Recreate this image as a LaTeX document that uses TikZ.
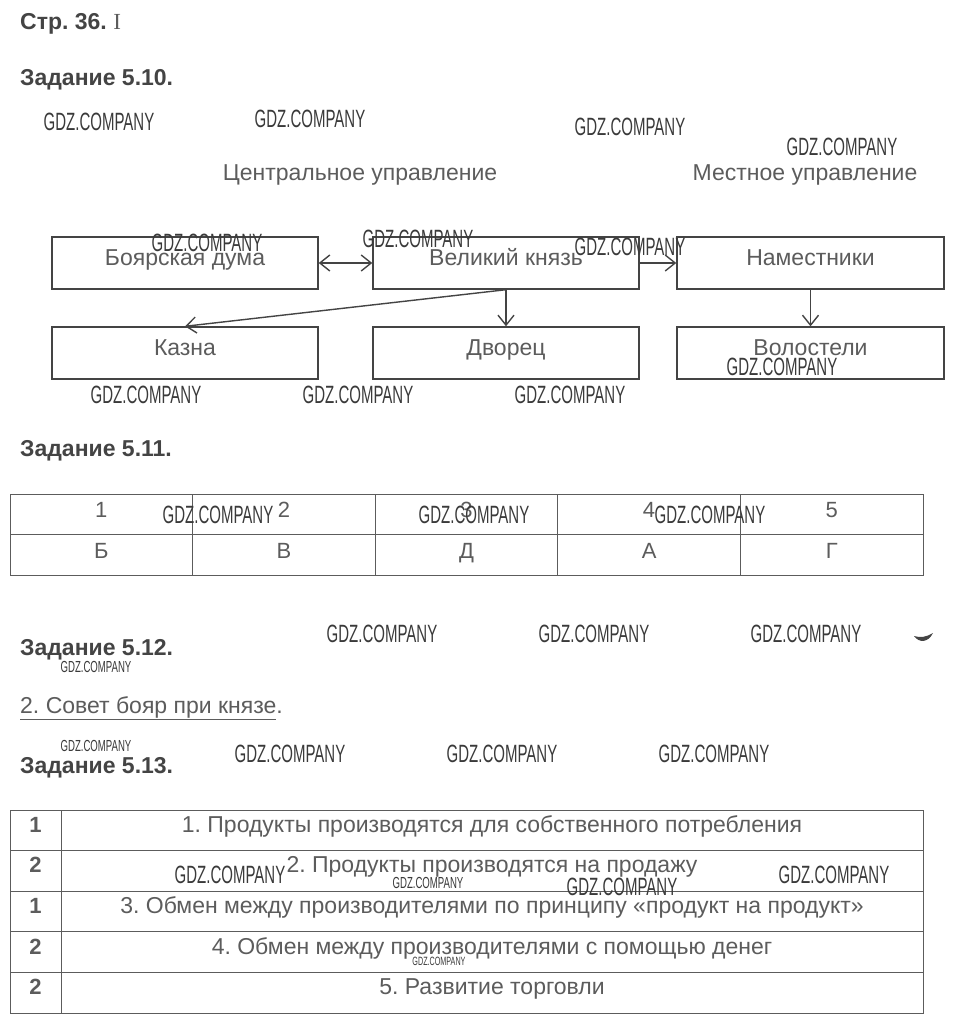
\documentclass[tikz,border=0pt]{standalone}
\usepackage{fontspec}
\setmainfont{Liberation Sans}
\newfontfamily\wmfont[FakeStretch=0.6]{Liberation Sans}
\newfontfamily\serifI{Liberation Serif}
\usepackage{tikz}
\usetikzlibrary{arrows.meta}
\definecolor{ink}{HTML}{444444}
\definecolor{txt}{HTML}{5C5C5C}
\definecolor{wmc}{HTML}{3A3A3A}
\frenchspacing

\begin{document}
\begin{tikzpicture}[x=1pt,y=-1pt,>={Straight Barb[length=10pt,width=16pt]},
  head/.style={anchor=base west,inner sep=0pt,text=ink,font=\fontsize{23}{26}\selectfont\bfseries},
  label/.style={anchor=base,inner sep=0pt,text=txt,font=\fontsize{23}{26}\selectfont},
  box/.style={draw=ink,line width=1.4pt,minimum width=266pt,minimum height=52pt,inner sep=0pt,text height=16pt,text depth=12pt,text=txt,font=\fontsize{23}{26}\selectfont},
  cell/.style={draw=txt,line width=0.8pt,minimum height=40.5pt,inner sep=0pt,text height=15pt,text depth=9pt,text=txt,font=\fontsize{22}{26}\selectfont},
  wm/.style={inner sep=0pt,text=wmc,font=\fontsize{25}{25}\wmfont},
  wmsmall/.style={inner sep=0pt,text=wmc,font=\fontsize{16}{16}\wmfont},
  wmtiny/.style={inner sep=0pt,text=wmc,font=\fontsize{12}{12}\wmfont},
  conn/.style={draw=ink,line width=1.4pt}]
  \useasboundingbox[fill=white] (0,0) rectangle (955,1027);

  % headings
  \node[head] (page) at (20,30) {Стр. 36. {\mdseries\serifI\color{txt}I}};
  \node[head] (t510) at (20,86) {Задание 5.10.};
  \node[head] (t511) at (20,456) {Задание 5.11.};
  \node[head] (t512) at (20,655) {Задание 5.12.};
  \node[head] (t513) at (20,773) {Задание 5.13.};

  % scheme 5.10
  \node[label] (central) at (360,180) {Центральное управление};
  \node[label] (local) at (805,180) {Местное управление};
  \node[box] (bduma) at (185,263) {Боярская дума};
  \node[box] (vknyaz) at (506,263) {Великий князь};
  \node[box,minimum width=267pt] (namest) at (810.5,263) {Наместники};
  \node[box] (kazna) at (185,353) {Казна};
  \node[box] (dvorets) at (506,353) {Дворец};
  \node[box,minimum width=267pt] (volost) at (810.5,353) {Волостели};
  \draw[conn,<->] (bduma) -- (vknyaz);
  \draw[conn,->] (vknyaz) -- (namest);
  \draw[conn,->] (vknyaz.south) -- (dvorets.north);
  \draw[conn,->] (vknyaz.south) -- (kazna.north);
  \draw[conn,->] (namest) -- (volost);

  % table 5.11
  \node[cell,minimum width=182.6pt] (n1) at (101.3,514.5) {1};
  \node[cell,minimum width=182.6pt] (n2) at (283.9,514.5) {2};
  \node[cell,minimum width=182.6pt] (n3) at (466.5,514.5) {3};
  \node[cell,minimum width=182.6pt] (n4) at (649.1,514.5) {4};
  \node[cell,minimum width=182.6pt] (n5) at (831.7,514.5) {5};
  \node[cell,minimum width=182.6pt] (l1) at (101.3,555) {Б};
  \node[cell,minimum width=182.6pt] (l2) at (283.9,555) {В};
  \node[cell,minimum width=182.6pt] (l3) at (466.5,555) {Д};
  \node[cell,minimum width=182.6pt] (l4) at (649.1,555) {А};
  \node[cell,minimum width=182.6pt] (l5) at (831.7,555) {Г};

  % answer 5.12
  \node[anchor=base west,inner sep=0pt,text=txt,font=\fontsize{23}{26}\selectfont] (ans512) at (20,713) {\underline{2. Совет бояр при князе}.};
  \fill[ink] (914,636) .. controls (919,643) and (928,643) .. (933,633) .. controls (927,637) and (920,638) .. cycle;

  % table 5.13
  \node[cell,minimum width=51pt,text depth=11pt,font=\fontsize{22}{26}\selectfont\bfseries] (k1) at (35.5,830.3) {1};
  \node[cell,minimum width=51pt,text depth=11pt,font=\fontsize{22}{26}\selectfont\bfseries] (k2) at (35.5,870.9) {2};
  \node[cell,minimum width=51pt,text depth=11pt,font=\fontsize{22}{26}\selectfont\bfseries] (k3) at (35.5,911.5) {1};
  \node[cell,minimum width=51pt,text depth=11pt,font=\fontsize{22}{26}\selectfont\bfseries] (k4) at (35.5,952.1) {2};
  \node[cell,minimum width=51pt,text depth=11pt,font=\fontsize{22}{26}\selectfont\bfseries] (k5) at (35.5,992.7) {2};
  \node[cell,minimum width=862pt,text height=15pt,text depth=11pt,font=\fontsize{23}{26}\selectfont] (s1) at (492,830.3) {1. Продукты производятся для собственного потребления};
  \node[cell,minimum width=862pt,text height=15pt,text depth=11pt,font=\fontsize{23}{26}\selectfont] (s2) at (492,870.9) {2. Продукты производятся на продажу};
  \node[cell,minimum width=862pt,text height=15pt,text depth=11pt,font=\fontsize{23}{26}\selectfont] (s3) at (492,911.5) {3. Обмен между производителями по принципу «продукт на продукт»};
  \node[cell,minimum width=862pt,text height=15pt,text depth=11pt,font=\fontsize{23}{26}\selectfont] (s4) at (492,952.1) {4. Обмен между производителями с помощью денег};
  \node[cell,minimum width=862pt,text height=15pt,text depth=11pt,font=\fontsize{23}{26}\selectfont] (s5) at (492,992.7) {5. Развитие торговли};

  % watermarks
  \node[wm] (w1) at (99,122) {GDZ.COMPANY};
  \node[wm] (w2) at (310,119) {GDZ.COMPANY};
  \node[wm] (w3) at (630,127) {GDZ.COMPANY};
  \node[wm] (w4) at (842,147) {GDZ.COMPANY};
  \node[wm] (w5) at (207,243) {GDZ.COMPANY};
  \node[wm] (w6) at (418,239) {GDZ.COMPANY};
  \node[wm] (w7) at (630,247) {GDZ.COMPANY};
  \node[wm] (w8) at (782,367) {GDZ.COMPANY};
  \node[wm] (w9) at (146,395) {GDZ.COMPANY};
  \node[wm] (w10) at (358,395) {GDZ.COMPANY};
  \node[wm] (w11) at (570,395) {GDZ.COMPANY};
  \node[wm] (w12) at (218,515) {GDZ.COMPANY};
  \node[wm] (w13) at (474,515) {GDZ.COMPANY};
  \node[wm] (w14) at (710,515) {GDZ.COMPANY};
  \node[wm] (w15) at (382,634) {GDZ.COMPANY};
  \node[wm] (w16) at (594,634) {GDZ.COMPANY};
  \node[wm] (w17) at (806,634) {GDZ.COMPANY};
  \node[wmsmall] (w18) at (96,667) {GDZ.COMPANY};
  \node[wmsmall] (w19) at (96,746) {GDZ.COMPANY};
  \node[wm] (w20) at (290,754) {GDZ.COMPANY};
  \node[wm] (w21) at (502,754) {GDZ.COMPANY};
  \node[wm] (w22) at (714,754) {GDZ.COMPANY};
  \node[wm] (w23) at (230,875) {GDZ.COMPANY};
  \node[wmsmall] (w24) at (428,883) {GDZ.COMPANY};
  \node[wm] (w25) at (622,887) {GDZ.COMPANY};
  \node[wm] (w26) at (834,875) {GDZ.COMPANY};
  \node[wmtiny] (w27) at (439,961) {GDZ.COMPANY};
\end{tikzpicture}
\end{document}
